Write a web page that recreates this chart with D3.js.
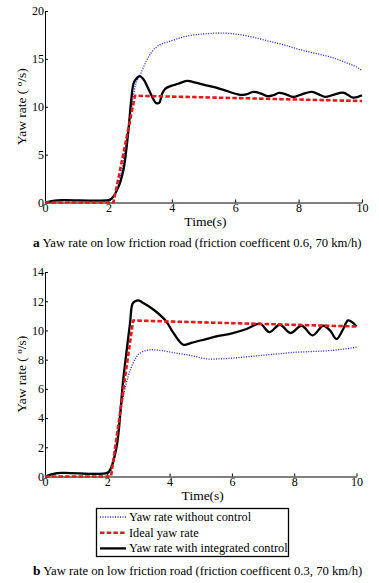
<!DOCTYPE html>
<html>
<head>
<meta charset="utf-8">
<script src="https://cdn.jsdelivr.net/npm/d3@7"></script>
<style>
  body { margin: 0; background: #fff; }
  svg text { font-family: "Liberation Serif", "Times New Roman", serif; fill: #000; }
  .axis path, .axis line { stroke: #000; stroke-width: 1; }
  .axis text { font-size: 12px; }
</style>
</head>
<body>
<svg id="chart" width="379" height="583"></svg>
<script>
// ---- data ----
// (a) friction coefficient 0.6
var timeA_noCtrl = [0, 0.3, 0.6, 2.05, 2.15, 2.3, 2.5, 2.7, 2.85, 3.0, 3.2, 3.5, 4.0, 4.5, 5.0, 5.5, 6.0, 6.5, 7.0, 7.5, 8.0, 8.5, 9.0, 9.5, 9.8, 10];
var yawA_noCtrl  = [0, 0.15, 0.2, 0.2, 0.5, 1.5, 5.0, 9.3, 12.2, 13.3, 14.8, 16.2, 16.9, 17.4, 17.6, 17.7, 17.6, 17.3, 16.9, 16.5, 16.0, 15.6, 15.2, 14.6, 14.2, 13.8];
var timeA_ideal = [0, 2.16, 2.84, 10];
var yawA_ideal  = [0, 0, 11.15, 10.6];
var timeA_ctrl = [0, 0.3, 0.6, 2.0, 2.1, 2.3, 2.47, 2.63, 2.73, 2.8, 2.9, 2.98, 3.1, 3.3, 3.5, 3.6, 3.7, 3.8, 4.0, 4.2, 4.47, 4.6, 5.0, 5.5, 6.15, 6.35, 6.57, 6.8, 7.03, 7.2, 7.38, 7.6, 7.83, 8.1, 8.41, 8.6, 8.83, 9.1, 9.41, 9.72, 10];
var yawA_ctrl  = [0, 0.2, 0.25, 0.25, 0.4, 1.5, 3.35, 7.5, 11.0, 12.5, 13.0, 13.2, 12.9, 11.6, 10.4, 10.4, 11.4, 11.9, 12.2, 12.4, 12.7, 12.65, 12.3, 11.9, 11.25, 11.3, 11.55, 11.4, 11.1, 11.2, 11.45, 11.3, 11.03, 11.3, 11.55, 11.35, 11.03, 11.25, 11.48, 10.95, 11.2];

// (b) friction coefficient 0.3
var timeB_noCtrl = [0, 0.3, 0.6, 2.05, 2.2, 2.35, 2.5, 2.67, 2.83, 3.05, 3.42, 3.8, 4.2, 4.65, 5.29, 5.6, 6.0, 6.5, 7.0, 7.5, 8.0, 8.5, 9.0, 9.5, 10];
var yawB_noCtrl  = [0, 0.15, 0.22, 0.22, 1.0, 3.2, 5.3, 6.85, 7.77, 8.45, 8.68, 8.6, 8.45, 8.3, 8.04, 8.05, 8.1, 8.2, 8.3, 8.4, 8.5, 8.55, 8.6, 8.7, 8.85];
var timeB_ideal = [0, 2.12, 2.83, 10];
var yawB_ideal  = [0, 0, 10.68, 10.27];
var timeB_ctrl = [0, 0.3, 0.6, 2.0, 2.1, 2.3, 2.51, 2.73, 2.81, 2.9, 2.99, 3.1, 3.5, 3.9, 4.1, 4.44, 4.7, 5.29, 5.61, 6.0, 6.47, 6.9, 7.2, 7.54, 7.88, 8.24, 8.59, 8.93, 9.15, 9.36, 9.55, 9.73, 9.9, 10];
var yawB_ctrl  = [0, 0.2, 0.25, 0.25, 0.5, 2.05, 6.6, 10.5, 11.83, 12.0, 12.06, 11.95, 11.4, 10.6, 9.9, 9.02, 9.15, 9.48, 9.64, 9.8, 10.1, 10.46, 9.89, 10.39, 9.82, 10.32, 9.66, 10.32, 10.0, 9.41, 10.0, 10.69, 10.5, 10.27];

var xTicks = [0, 2, 4, 6, 8, 10];
var yTicksA = [0, 5, 10, 15, 20];
var yTicksB = [0, 2, 4, 6, 8, 10, 12, 14];
var legendLabels = ["Yaw rate without control", "Ideal yaw rate", "Yaw rate with integrated control"];

var styles = [
  { color: "#3030d8", width: 1.3, dash: "1.1,1.4" },
  { color: "#e3191c", width: 2.6, dash: "4.5,2.2" },
  { color: "#000000", width: 2.3, dash: null }
];

var svg = d3.select("#chart");

function zip(ts, vs) { return ts.map(function(t, i) { return [t, vs[i]]; }); }

function drawPanel(opt) {
  var x = d3.scaleLinear().domain([0, 10]).range([opt.left, opt.right]);
  var y = d3.scaleLinear().domain([0, opt.yMax]).range([opt.bottom, opt.top]);
  var g = svg.append("g");

  g.append("g").attr("class", "axis")
    .attr("transform", "translate(0," + opt.bottom + ")")
    .call(d3.axisBottom(x).tickValues(xTicks).tickSize(-3).tickSizeOuter(0).tickPadding(1));
  g.append("g").attr("class", "axis")
    .attr("transform", "translate(" + opt.left + ",0)")
    .call(d3.axisLeft(y).tickValues(opt.yTicks).tickSize(-3).tickSizeOuter(0).tickPadding(1));
  g.selectAll(".axis .tick text").attr("fill", "#000");

  var series = [
    { d: zip(opt.t0, opt.v0), curve: d3.curveMonotoneX },
    { d: zip(opt.t1, opt.v1), curve: d3.curveLinear },
    { d: zip(opt.t2, opt.v2), curve: d3.curveCatmullRom.alpha(0.5) }
  ];
  // blue first, then black, red dashed on top
  [0, 2, 1].forEach(function(i) {
    var line = d3.line().x(function(p) { return x(p[0]); }).y(function(p) { return y(p[1]); }).curve(series[i].curve);
    g.append("path")
      .attr("d", line(series[i].d))
      .attr("fill", "none")
      .attr("stroke", styles[i].color)
      .attr("stroke-width", styles[i].width)
      .attr("stroke-dasharray", styles[i].dash)
      .attr("stroke-linejoin", "round");
  });

  g.append("text")
    .attr("x", (opt.left + opt.right) / 2 + 2)
    .attr("y", opt.bottom + 23)
    .attr("text-anchor", "middle")
    .attr("font-size", "13.5px")
    .text("Time(s)");

  var yl = g.append("text")
    .attr("transform", "translate(26," + ((opt.top + opt.bottom) / 2) + ") rotate(-90)")
    .attr("text-anchor", "middle")
    .attr("font-size", "13.5px");
  yl.append("tspan").text("Yaw rate ( ");
  yl.append("tspan").attr("font-size", "9px").attr("dy", "-4").text("o");
  yl.append("tspan").attr("dy", "4").text("/s)");

  var cap = g.append("text")
    .attr("x", 33)
    .attr("y", opt.capY)
    .attr("font-size", "12.7px");
  cap.append("tspan").attr("font-weight", "bold").attr("font-size", "13.5px").text(opt.letter);
  cap.append("tspan").text(" " + opt.caption);
}

drawPanel({
  left: 45, right: 362, top: 11, bottom: 202.5, yMax: 20, yTicks: yTicksA,
  t0: timeA_noCtrl, v0: yawA_noCtrl, t1: timeA_ideal, v1: yawA_ideal, t2: timeA_ctrl, v2: yawA_ctrl,
  capY: 247, letter: "a",
  caption: "Yaw rate on low friction road (friction coefficent 0.6, 70 km/h)"
});

drawPanel({
  left: 45, right: 356.5, top: 272, bottom: 476.5, yMax: 14, yTicks: yTicksB,
  t0: timeB_noCtrl, v0: yawB_noCtrl, t1: timeB_ideal, v1: yawB_ideal, t2: timeB_ctrl, v2: yawB_ctrl,
  capY: 575, letter: "b",
  caption: "Yaw rate on low friction road (friction coefficent 0.3, 70 km/h)"
});

// legend box under panel b
var leg = svg.append("g");
leg.append("rect")
  .attr("x", 96.5).attr("y", 508.5).attr("width", 192).attr("height", 48)
  .attr("fill", "#fff").attr("stroke", "#000").attr("stroke-width", 1.3);
legendLabels.forEach(function(lab, i) {
  var yy = 517 + i * 15.7;
  leg.append("line")
    .attr("x1", 100).attr("x2", 126).attr("y1", yy).attr("y2", yy)
    .attr("stroke", styles[i].color)
    .attr("stroke-width", styles[i].width)
    .attr("stroke-dasharray", styles[i].dash);
  leg.append("text")
    .attr("x", 129).attr("y", yy + 4)
    .attr("font-size", "12.3px")
    .text(lab);
});
</script>
</body>
</html>
